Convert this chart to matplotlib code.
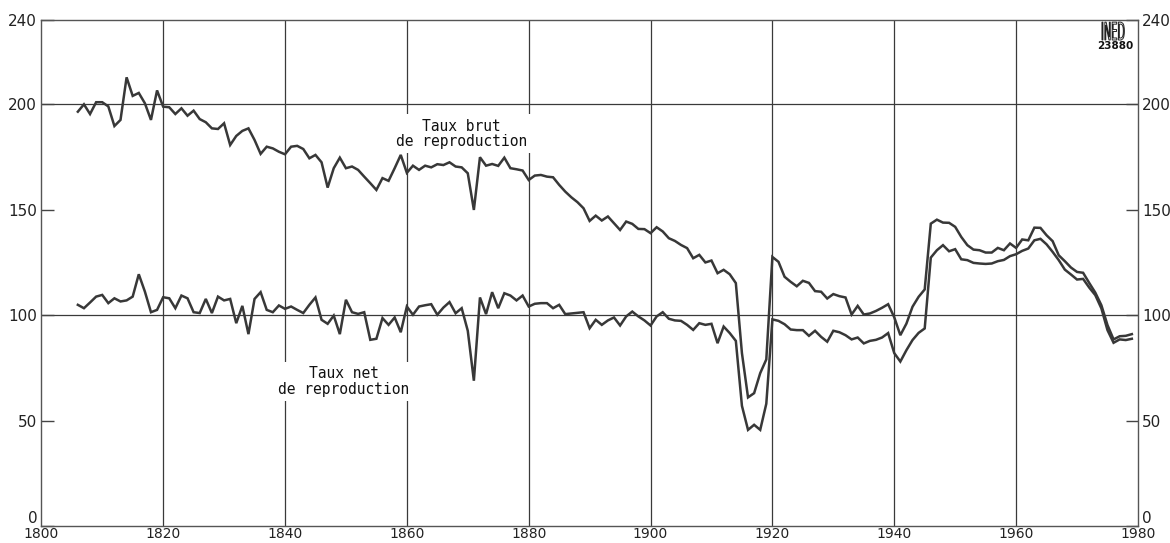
import numpy as np
import matplotlib
matplotlib.use("Agg")
import matplotlib.pyplot as plt
from matplotlib.textpath import TextPath
from matplotlib.patches import PathPatch
from matplotlib.font_manager import FontProperties
from matplotlib.transforms import Affine2D

# -------------------------------
# Data: reproduction rates (x100), France 1806-1979
# -------------------------------
years = list(range(1806, 1980))

taux_brut = [
    196.5, 200.0, 195.4, 201.0, 201.0, 199.0, 189.7, 192.6, 212.8, 204.0,   # 1806-1815
    205.4, 200.5, 192.6, 206.6, 198.9, 198.6, 195.4, 198.1, 194.6, 197.0,   # 1816-1825
    193.0, 191.5, 188.6, 188.3, 191.0, 180.7, 185.0, 187.4, 188.6, 183.1,   # 1826-1835
    176.5, 179.9, 179.1, 177.5, 176.3, 179.9, 180.3, 178.8, 174.4, 176.0,   # 1836-1845
    172.5, 160.5, 169.7, 174.7, 169.7, 170.5, 168.9, 165.7, 162.6, 159.4,   # 1846-1855
    165.0, 163.7, 169.7, 176.0, 167.5, 170.9, 168.9, 170.9, 170.1, 171.6,   # 1856-1865
    171.2, 172.5, 170.5, 170.1, 167.3, 149.9, 174.9, 170.9, 171.7, 170.8,   # 1866-1875
    174.7, 169.7, 169.2, 168.6, 164.1, 166.2, 166.5, 165.7, 165.4, 161.8,   # 1876-1885
    158.6, 155.9, 153.6, 150.7, 144.7, 147.2, 144.9, 146.8, 143.6, 140.4,   # 1886-1895
    144.4, 143.3, 140.9, 140.8, 138.9, 141.7, 139.7, 136.5, 135.2, 133.3,   # 1896-1905
    131.8, 127.0, 128.6, 125.0, 125.9, 119.9, 121.5, 119.4, 115.2, 82.0,    # 1906-1915
    61.0, 63.0, 72.5, 79.0, 127.6, 125.3, 118.2, 115.8, 113.7, 116.3,       # 1916-1925
    115.3, 111.4, 111.1, 107.9, 110.0, 109.0, 108.4, 100.3, 104.4, 100.3,   # 1926-1935
    100.8, 102.0, 103.5, 105.2, 99.0, 90.5, 96.0, 104.0, 108.7, 112.2,      # 1936-1945
    143.4, 145.3, 143.9, 143.8, 141.9, 137.1, 133.2, 131.1, 130.8, 129.7,   # 1946-1955
    129.7, 131.9, 130.8, 134.0, 131.9, 135.9, 135.5, 141.5, 141.4, 137.9,   # 1956-1965
    135.1, 128.4, 125.6, 122.6, 120.5, 120.1, 115.3, 110.7, 104.7, 95.3,    # 1966-1975
    88.5, 90.0, 90.2, 91.0,                                                 # 1976-1979
]

taux_net = [
    104.9, 103.3, 106.0, 108.8, 109.6, 105.7, 108.0, 106.5, 107.0, 108.8,   # 1806-1815
    119.4, 111.2, 101.4, 102.5, 108.5, 108.0, 103.3, 109.3, 108.0, 101.4,   # 1816-1825
    101.0, 107.7, 101.0, 108.8, 107.0, 107.7, 96.2, 104.4, 91.0, 107.7,     # 1826-1835
    110.9, 102.5, 101.4, 104.6, 103.0, 104.1, 102.5, 101.0, 104.9, 108.4,   # 1836-1845
    97.8, 95.9, 99.8, 91.0, 107.3, 101.4, 100.6, 101.4, 88.3, 88.8,         # 1846-1855
    98.6, 95.4, 98.9, 91.9, 104.1, 100.2, 104.1, 104.7, 105.2, 100.2,       # 1856-1865
    103.6, 106.2, 100.9, 103.3, 92.6, 68.9, 108.4, 100.5, 110.9, 103.3,     # 1866-1875
    110.4, 109.3, 107.0, 109.3, 104.1, 105.4, 105.7, 105.7, 103.3, 104.9,   # 1876-1885
    100.5, 100.8, 101.1, 101.4, 93.8, 97.8, 95.4, 97.5, 98.9, 95.1,         # 1886-1895
    99.4, 101.7, 99.4, 97.5, 95.1, 99.4, 101.4, 98.3, 97.5, 97.3,           # 1896-1905
    95.4, 93.0, 96.2, 95.4, 95.9, 86.7, 94.6, 91.5, 87.8, 57.0,             # 1906-1915
    45.6, 48.0, 45.6, 58.0, 98.0, 97.3, 95.7, 93.2, 92.9, 92.9,             # 1916-1925
    90.2, 92.6, 89.7, 87.4, 92.6, 91.9, 90.5, 88.5, 89.4, 86.6,             # 1926-1935
    87.8, 88.3, 89.4, 91.5, 82.0, 78.0, 83.4, 88.2, 91.6, 93.7,             # 1936-1945
    127.3, 130.8, 133.2, 130.3, 131.3, 126.5, 126.1, 124.8, 124.5, 124.3,   # 1946-1955
    124.5, 125.6, 126.2, 128.0, 128.9, 130.5, 131.6, 135.5, 136.2, 133.6,   # 1956-1965
    130.0, 126.1, 121.6, 119.3, 116.9, 117.2, 113.1, 109.5, 103.2, 92.9,    # 1966-1975
    86.9, 88.5, 88.2, 88.8,                                                 # 1976-1979
]

x_ticks = list(range(1800, 1981, 20))
y_ticks = [0, 50, 100, 150, 200, 240]
y_grid = [100, 200]

label_brut = "Taux brut\nde reproduction"
label_net = "Taux net\nde reproduction"

# -------------------------------
# Figure
# -------------------------------
fig = plt.figure(figsize=(11.7, 5.43), dpi=100)
ax = fig.add_axes([0.0353, 0.0313, 0.9373, 0.9319])

line_color = "#383838"
grid_color = "#3a3a3a"

ax.plot(years, taux_brut, color=line_color, lw=1.8, zorder=4, solid_joinstyle="miter")
ax.plot(years, taux_net, color=line_color, lw=1.8, zorder=4, solid_joinstyle="miter")

ax.set_xlim(1800, 1980)
ax.set_ylim(0, 240)

# grid: vertical every 20 years, horizontal at 100 and 200
for xv in x_ticks[1:-1]:
    ax.axvline(xv, color=grid_color, lw=0.9, zorder=1)
for yv in y_grid:
    ax.axhline(yv, color=grid_color, lw=0.9, zorder=1)

for side in ["top", "bottom", "left", "right"]:
    ax.spines[side].set_color("#555555")
    ax.spines[side].set_linewidth(1.0)

ax.set_xticks(x_ticks)
ax.set_xticklabels([str(x) for x in x_ticks])
ax.tick_params(axis="x", length=0, pad=0.5, labelsize=10, colors="#222222")

ax.set_yticks(y_ticks)
ax.set_yticklabels([str(y) for y in y_ticks])
ax.tick_params(axis="y", direction="in", length=9, width=1.0, color="#444444",
               left=True, right=True, labelleft=True, labelright=True,
               pad=3, labelsize=11, labelcolor="#222222")

# zero labels sit just above the baseline
zero_tick = ax.yaxis.get_major_ticks()[0]
zero_tick.label1.set_va("bottom")
zero_tick.label2.set_va("bottom")

# -------------------------------
# Annotations
# -------------------------------
mono = ["DejaVu Sans Mono"]
ax.text(1869.0, 186, label_brut, family=mono, fontsize=10.5, ha="center", va="center",
        linespacing=1.05, color="#111111", zorder=3,
        bbox=dict(facecolor="white", edgecolor="none", pad=3))
ax.text(1849.7, 68.5, label_net, family=mono, fontsize=10.5, ha="center", va="center",
        linespacing=1.05, color="#111111", zorder=3,
        bbox=dict(facecolor="white", edgecolor="none", pad=3))

# INED logo, top right corner (tall outlined letters)
logo = TextPath((0, 0), "INED", size=10, prop=FontProperties(family="DejaVu Sans"))
logo_patch = PathPatch(logo, facecolor="white", edgecolor="#222222", lw=0.7,
                       transform=Affine2D().scale(0.98, 2.45).translate(1101, 503))
fig.add_artist(logo_patch)
fig.text(1115.5 / 1170, 1 - 46 / 543, "23880", fontsize=7.5, fontweight="bold",
         ha="center", va="center", color="#111111")

fig.savefig("out.png", dpi=100)
